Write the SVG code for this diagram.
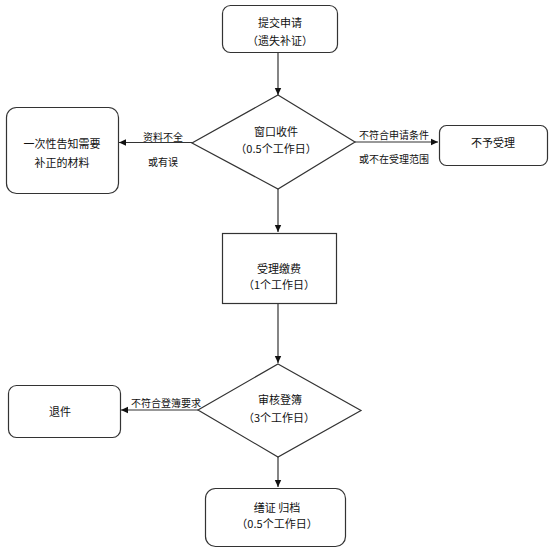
<svg xmlns="http://www.w3.org/2000/svg" width="554" height="553" viewBox="0 0 554 553">
<defs>
<style>
.box{fill:#fff;stroke:#333;stroke-width:1.2}
.t{font-family:"Noto Sans CJK SC","Liberation Sans",sans-serif;font-size:11px;fill:#111;text-anchor:middle;dominant-baseline:central;text-spacing-trim:space-all;font-feature-settings:"chws" 0,"halt" 0,"palt" 0}
.l{font-family:"Noto Sans CJK SC","Liberation Sans",sans-serif;font-size:10px;fill:#111;text-anchor:middle;dominant-baseline:central}
.c{stroke:#333;stroke-width:1.2;fill:none;marker-end:url(#ah)}
</style>
<marker id="ah" markerUnits="userSpaceOnUse" markerWidth="8" markerHeight="8" refX="7" refY="4" orient="auto">
<path d="M0,0.8 L7,4 L0,7.2 Z" fill="#111"/>
</marker>
</defs>
<rect width="554" height="553" fill="#fff"/>
<g id="connectors">
<line class="c" x1="278" y1="53" x2="278" y2="95"/>
<line class="c" x1="192" y1="142.5" x2="119" y2="142.5"/>
<line class="c" x1="355" y1="142" x2="438" y2="142"/>
<line class="c" x1="278" y1="189" x2="278" y2="232"/>
<line class="c" x1="278" y1="304" x2="278" y2="363"/>
<line class="c" x1="198" y1="410" x2="121" y2="410"/>
<line class="c" x1="278" y1="457" x2="278" y2="487"/>
<text class="l" x="163" y="136">资料不全</text>
<text class="l" x="163" y="161">或有误</text>
<text class="l" x="394" y="134">不符合申请条件</text>
<text class="l" x="394" y="158">或不在受理范围</text>
<text class="l" x="166" y="402">不符合登簿要求</text>
</g>
<g id="n1">
<rect class="box" x="222.5" y="5.5" width="115" height="47" rx="8"/>
<text class="t" x="280" y="22">提交申请</text>
<text class="t" x="280" y="40">（遗失补证）</text>
</g>
<g id="n2">
<polygon class="box" points="278,95 355,142 278,189 192,143"/>
<text class="t" x="276" y="131">窗口收件</text>
<text class="t" x="276" y="148">（0.5个工作日）</text>
</g>
<g id="n3">
<rect class="box" x="6.5" y="107.5" width="112" height="86" rx="10"/>
<text class="t" x="62" y="143">一次性告知需要</text>
<text class="t" x="62" y="162">补正的材料</text>
</g>
<g id="n4">
<rect class="box" x="439.5" y="125.5" width="108" height="40" rx="7"/>
<text class="t" x="493" y="142">不予受理</text>
</g>
<g id="n5">
<rect class="box" x="222.5" y="233.5" width="114" height="70"/>
<text class="t" x="279" y="268">受理缴费</text>
<text class="t" x="279" y="284">（1个工作日）</text>
</g>
<g id="n6">
<polygon class="box" points="278,364 361,410.5 278,457 198,410"/>
<text class="t" x="280" y="399">审核登簿</text>
<text class="t" x="279" y="417">（3个工作日）</text>
</g>
<g id="n7">
<rect class="box" x="8.5" y="385.5" width="112" height="52" rx="8"/>
<text class="t" x="60" y="411">退件</text>
</g>
<g id="n8">
<rect class="box" x="205.5" y="488.5" width="140" height="58" rx="10"/>
<text class="t" x="277" y="507">缮证 归档</text>
<text class="t" x="277" y="523">（0.5个工作日）</text>
</g>
</svg>
